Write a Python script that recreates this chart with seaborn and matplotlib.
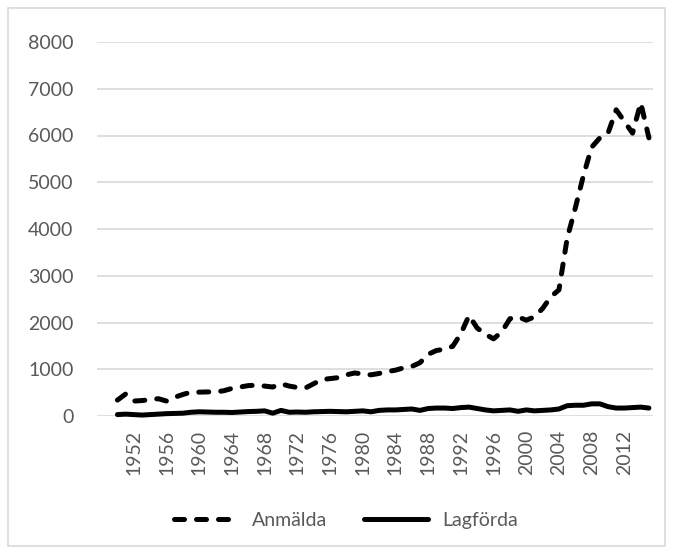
import pandas as pd
import matplotlib.pyplot as plt
import seaborn as sns
from matplotlib.lines import Line2D
from matplotlib.patches import Rectangle

# Values
years = list(range(1950, 2016))
anmalda = [340, 470, 320, 330, 350, 370, 320, 400, 460, 510,
           510, 515, 515, 540, 590, 620, 650, 660, 640, 620,
           690, 640, 610, 600, 690, 780, 800, 820, 880, 920,
           900, 880, 910, 950, 980, 1030, 1060, 1140, 1320, 1400,
           1430, 1490, 1760, 2150, 1880, 1750, 1650, 1800, 2080, 2120,
           2050, 2120, 2300, 2550, 2700, 3800, 4450, 5150, 5750, 5950,
           6050, 6550, 6300, 6050, 6700, 5950]
lagforda = [30, 40, 30, 20, 30, 40, 50, 55, 60, 80,
            90, 85, 80, 80, 75, 85, 95, 100, 110, 60,
            120, 80, 85, 80, 90, 95, 100, 95, 90, 100,
            110, 90, 120, 130, 130, 140, 150, 120, 160, 170,
            170, 160, 180, 190, 160, 130, 110, 120, 130, 100,
            130, 110, 120, 130, 150, 220, 230, 230, 260, 260,
            200, 170, 170, 180, 190, 170]
tick_years = list(range(1952, 2013, 4))
y_ticks = [0, 1000, 2000, 3000, 4000, 5000, 6000, 7000, 8000]

df = pd.DataFrame({'År': years + years,
                   'Antal': anmalda + lagforda,
                   'Serie': ['Anmälda'] * len(years) + ['Lagförda'] * len(years)})

sns.set_style("white")
plt.rcParams['font.family'] = ['Lato', 'DejaVu Sans']
text_color = '#595959'
grid_color = '#d9d9d9'

fig = plt.figure(figsize=(6.73, 5.54), dpi=100)
ax = fig.add_axes([97 / 673, 1 - 416 / 554, 556 / 673, 374 / 554])

dash = (2.0, 2.4)
sns.lineplot(data=df, x='År', y='Antal', hue='Serie', style='Serie',
             palette=['black', 'black'], dashes={'Anmälda': dash, 'Lagförda': ''},
             linewidth=3.6, legend=False, ax=ax)
for line in ax.lines:
    line.set_dash_capstyle('round')
    line.set_solid_capstyle('round')
    line.set_solid_joinstyle('round')
    line.set_clip_on(False)

ax.set_xlim(1947.5, 2015.5)
ax.set_ylim(0, 8000)
ax.set_xticks(tick_years)
ax.set_xticklabels([str(y) for y in tick_years], rotation=90)
ax.set_yticks(y_ticks)
ax.set_yticklabels([str(v) for v in y_ticks])
ax.tick_params(axis='y', length=0, pad=17, labelsize=14, labelcolor=text_color)
ax.tick_params(axis='x', length=0, pad=10, labelsize=14, labelcolor=text_color)
ax.yaxis.grid(True, color=grid_color, linewidth=1.2)
ax.set_axisbelow(True)
ax.set_xlabel('')
ax.set_ylabel('')
for s in ax.spines.values():
    s.set_visible(False)

handles = [Line2D([], [], color='black', linewidth=3.6, linestyle=(0, dash),
                  dash_capstyle='round'),
           Line2D([], [], color='black', linewidth=3.6, solid_capstyle='round')]
fig.legend(handles, ['Anmälda', 'Lagförda'], loc='center', bbox_to_anchor=(0.514, 0.061),
           ncol=2, frameon=False, fontsize=14, labelcolor=text_color,
           handlelength=3.3, handletextpad=0.7, columnspacing=1.9)

fig.patches.append(Rectangle((8 / 673, 8 / 554), 657 / 673, 538 / 554, transform=fig.transFigure,
                             fill=False, edgecolor=grid_color, linewidth=1.2))

fig.savefig('out.png', dpi=100)
